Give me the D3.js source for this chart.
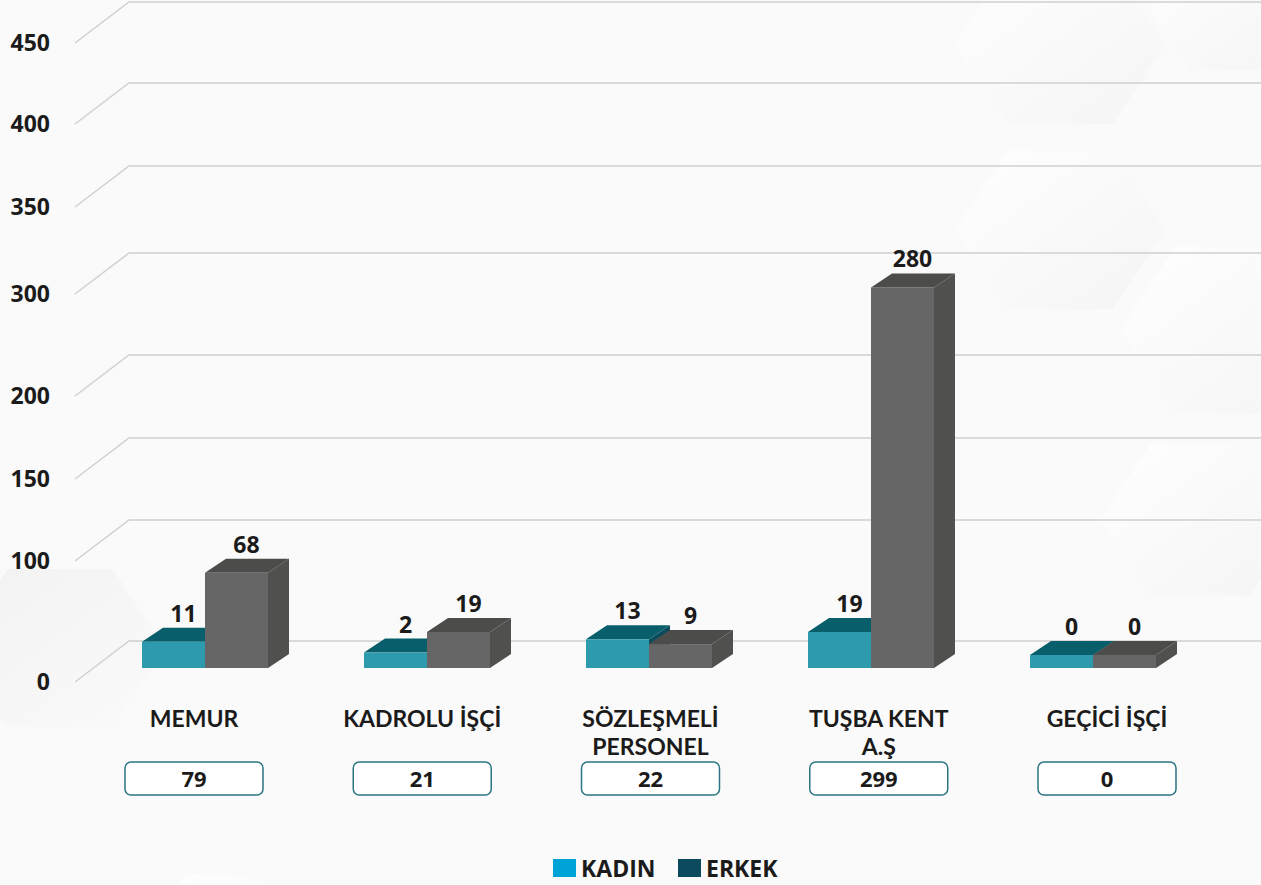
<!DOCTYPE html>
<html>
<head>
<meta charset="utf-8">
<script src="https://cdn.jsdelivr.net/npm/d3@7"></script>
<style>
  html, body { margin: 0; padding: 0; background: #FAFAFA; }
  svg { display: block; }
  text { font-family: "Open Sans", "Noto Sans", sans-serif; font-weight: 700; fill: #1b1b1b; }
  text.cat { font-family: "Lato", "Open Sans", sans-serif; font-weight: 700; }
</style>
</head>
<body>
<svg id="chart" width="1261" height="885"></svg>
<script>
// ---------------- DATA ----------------
const categories = ["MEMUR", "KADROLU İŞÇİ", "SÖZLEŞMELİ\nPERSONEL", "TUŞBA KENT\nA.Ş", "GEÇİCİ İŞÇİ"];
const kadin = [11, 2, 13, 19, 0];
const erkek = [68, 19, 9, 280, 0];
const totals = [79, 21, 22, 299, 0];
const tickValues = [0, 100, 150, 200, 300, 350, 400, 450];
const seriesNames = ["KADIN", "ERKEK"];

// ---------------- LAYOUT ----------------
const W = 1261, H = 885;
const svg = d3.select("#chart");

// background
svg.append("rect").attr("width", W).attr("height", H).attr("fill", "#FAFAFA");
const defs = svg.append("defs");
const g1 = defs.append("linearGradient").attr("id", "hexg").attr("x1", "0").attr("y1", "0").attr("x2", "1").attr("y2", "1");
g1.append("stop").attr("offset", "0").attr("stop-color", "#ffffff");
g1.append("stop").attr("offset", "1").attr("stop-color", "#f4f4f4");
const g2 = defs.append("linearGradient").attr("id", "hexg2").attr("x1", "0").attr("y1", "0").attr("x2", "1").attr("y2", "1");
g2.append("stop").attr("offset", "0").attr("stop-color", "#f1f1f1");
g2.append("stop").attr("offset", "1").attr("stop-color", "#fafafa");
function hex(cx, cy, r) {
  const pts = d3.range(6).map(i => {
    const a = Math.PI / 3 * i;
    return [cx + r * Math.cos(a), cy + r * Math.sin(a) * 0.87];
  });
  return "M" + pts.join("L") + "Z";
}
const bgHex = [
  [1060, 45, 105, "url(#hexg)"], [1060, 230, 105, "url(#hexg)"], [1230, 330, 110, "url(#hexg)"],
  [1230, 10, 80, "url(#hexg)"], [60, 648, 105, "url(#hexg2)"], [225, 935, 80, "url(#hexg)"],
  [1200, 520, 100, "url(#hexg)"]
];
svg.append("g").selectAll("path").data(bgHex).join("path")
  .attr("d", d => hex(d[0], d[1], d[2])).attr("fill", d => d[3]).attr("opacity", 0.9);

// y scale (piecewise, following the printed axis)
const y = d3.scaleLinear().domain(tickValues).range([641, 520, 438, 355, 253, 166, 83, 2]);
const gridX0 = 75, gridX1 = 129, gridDrop = 41;

const grid = svg.append("g");
grid.selectAll("path").data(tickValues).join("path")
  .attr("d", v => `M${gridX0},${y(v) + gridDrop}L${gridX1},${y(v)}L${W},${y(v)}`)
  .attr("fill", "none").attr("stroke", "#d0d0d0").attr("stroke-width", 1.5);
grid.selectAll("text").data(tickValues).join("text")
  .attr("x", 50).attr("y", v => y(v) + 49)
  .attr("text-anchor", "end").attr("font-size", 23).text(v => v);

// x scales
const x = d3.scalePoint().domain(categories).range([205, 1093]);
const xl = d3.scalePoint().domain(categories).range([194, 1107]);
const bw = 63, dx = 21, dy = 14, frontBottom = y(0) + 27;

const colK = { front: "#2E9AAD", top: "#085E6A", side: "#0B4C5C" };
const colE = { front: "#666666", top: "#4C4C4A", side: "#50504E" };

function drawBar(g, x0, v, c) {
  const ft = y(v) + dy;           // front top
  const x1 = x0 + bw;
  g.append("path").attr("d", `M${x1},${ft}L${x1 + dx},${ft - dy}L${x1 + dx},${frontBottom - dy}L${x1},${frontBottom}Z`).attr("fill", c.side);
  g.append("path").attr("d", `M${x0},${ft}L${x0 + dx},${ft - dy}L${x1 + dx},${ft - dy}L${x1},${ft}Z`).attr("fill", c.top);
  g.append("rect").attr("x", x0).attr("y", ft).attr("width", bw).attr("height", frontBottom - ft).attr("fill", c.front);
  g.append("text").attr("x", x0 + bw / 2 + 10).attr("y", ft - dy - 6)
    .attr("text-anchor", "middle").attr("font-size", 23).text(v);
}

const bars = svg.append("g");
categories.forEach((cat, i) => {
  const gc = bars.append("g");
  const c = x(cat);
  drawBar(gc, c - bw, kadin[i], colK);
  drawBar(gc, c, erkek[i], colE);
});

// category labels (each line its own text)
const labels = svg.append("g");
categories.forEach((cat, i) => {
  cat.split("\n").forEach((ln, j) => {
    labels.append("text").attr("class", "cat").attr("text-anchor", "middle").attr("font-size", 23)
      .attr("x", xl(cat)).attr("y", 727 + j * 28).text(ln);
  });
});

// totals boxes
const boxes = svg.append("g");
categories.forEach((cat, i) => {
  const cx = xl(cat);
  boxes.append("rect").attr("x", cx - 69).attr("y", 762).attr("width", 138).attr("height", 33)
    .attr("rx", 6).attr("fill", "#ffffff").attr("stroke", "#2B7682").attr("stroke-width", 1.5);
  boxes.append("text").attr("x", cx).attr("y", 787).attr("text-anchor", "middle")
    .attr("font-size", 22).text(totals[i]);
});

// legend
const legendColors = ["#00A3D6", "#0C4A5E"];
const legend = svg.append("g");
const lx = [553, 678];
seriesNames.forEach((s, i) => {
  legend.append("rect").attr("x", lx[i]).attr("y", 859).attr("width", 23).attr("height", 18).attr("fill", legendColors[i]);
  legend.append("text").attr("x", lx[i] + 28).attr("y", 877).attr("font-size", 23).text(s);
});
</script>
</body>
</html>
